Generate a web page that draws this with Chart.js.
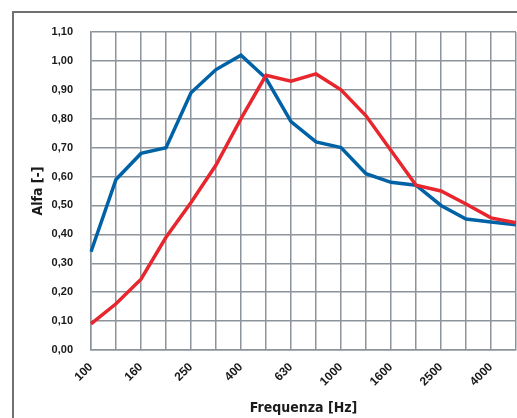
<!DOCTYPE html>
<html>
<head>
<meta charset="utf-8">
<script src="https://cdn.jsdelivr.net/npm/chart.js@4"></script>
<style>
  html, body { margin: 0; padding: 0; background: #fff; overflow: hidden; }
  #wrap { position: relative; width: 517px; height: 418px; }
  #frame {
    position: absolute; left: 12px; top: 11px; width: 520px; height: 420px;
    border-top: 2px solid #707070; border-left: 2px solid #707070;
  }
  canvas { position: absolute; left: 0; top: 0; }
</style>
</head>
<body>
<div id="wrap">
  <div id="frame"></div>
  <canvas id="alfaChart" width="517" height="418"></canvas>
</div>
<script>
const frequencies = ["100", "125", "160", "200", "250", "315", "400", "500", "630", "800",
  "1000", "1250", "1600", "2000", "2500", "3150", "4000", "5000"];
const blueValues = [0.34, 0.59, 0.68, 0.70, 0.89, 0.97, 1.02, 0.94, 0.79, 0.72,
  0.70, 0.61, 0.58, 0.57, 0.50, 0.453, 0.443, 0.433];
const redValues = [0.09, 0.16, 0.245, 0.39, 0.51, 0.64, 0.80, 0.95, 0.93, 0.955,
  0.90, 0.81, 0.69, 0.57, 0.55, 0.505, 0.457, 0.44];
const yMin = 0;
const yMax = 1.10;
const yStep = 0.10;

const gridColor = "#8d939a";
const yLabelFont = { family: "'Liberation Sans', Arial, sans-serif", size: 11, weight: "bold" };
const xLabelFont = { family: "'Liberation Sans', Arial, sans-serif", size: 12, weight: "bold" };
const titleFont = { family: "'Liberation Sans Narrow', 'DejaVu Sans Condensed', sans-serif", size: 14, weight: "bold" };

const ctx = document.getElementById("alfaChart").getContext("2d");

new Chart(ctx, {
  type: "line",
  data: {
    labels: frequencies,
    datasets: [
      {
        label: "A",
        data: redValues,
        borderColor: "#e8262e",
        borderWidth: 3.5,
        pointRadius: 0,
        tension: 0
      },
      {
        label: "B",
        data: blueValues,
        borderColor: "#0062a6",
        borderWidth: 3.5,
        pointRadius: 0,
        tension: 0
      }
    ]
  },
  options: {
    responsive: false,
    animation: false,
    layout: { padding: { left: 28, top: 32, right: 1, bottom: 0 } },
    plugins: {
      legend: { display: false },
      tooltip: { enabled: false }
    },
    scales: {
      x: {
        offset: false,
        grid: { color: gridColor, lineWidth: 1.5, drawTicks: false },
        border: { color: gridColor, width: 1.5 },
        ticks: {
          autoSkip: false,
          minRotation: 45,
          maxRotation: 45,
          padding: 10,
          color: "#1a1a1a",
          font: xLabelFont,
          callback: function (value, index) {
            return index % 2 === 0 ? frequencies[index] : "";
          }
        },
        title: {
          display: true,
          text: "Frequenza [Hz]",
          color: "#1a1a1a",
          font: titleFont,
          padding: { top: 0, bottom: 1 }
        },
        afterFit: function (scale) {
          scale.height = 68;
          scale.paddingRight = 0;
        }
      },
      y: {
        min: yMin,
        max: yMax,
        grid: { color: gridColor, lineWidth: 1.5, drawTicks: false },
        border: { color: gridColor, width: 1.5 },
        ticks: {
          stepSize: yStep,
          padding: 18,
          color: "#1a1a1a",
          font: yLabelFont,
          callback: function (value) {
            return value.toFixed(2).replace(".", ",");
          }
        },
        title: {
          display: true,
          text: "Alfa [-]",
          color: "#1a1a1a",
          font: titleFont,
          padding: { top: 2, bottom: 0 }
        },
        afterFit: function (scale) { scale.width = 63; }
      }
    }
  }
});
</script>
</body>
</html>
